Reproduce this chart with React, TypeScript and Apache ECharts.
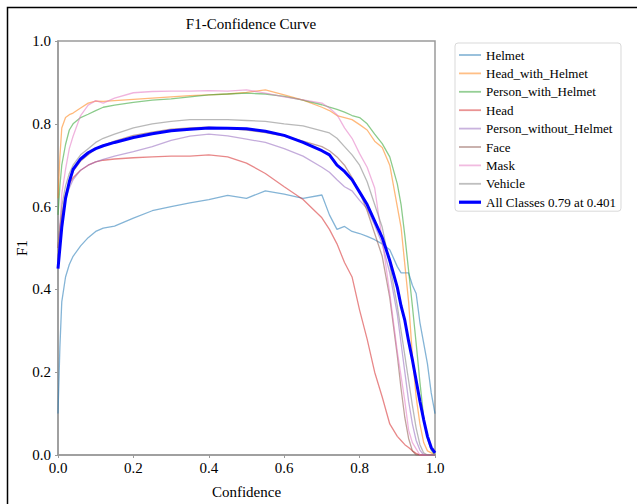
import React, { useEffect, useRef } from "react";
import * as echarts from "echarts";

const conf = [0, 0.005, 0.01, 0.02, 0.03, 0.04, 0.06, 0.08, 0.1, 0.12, 0.15, 0.2, 0.25, 0.3, 0.35, 0.4, 0.45, 0.5, 0.55, 0.6, 0.65, 0.7, 0.72, 0.74, 0.76, 0.78, 0.8, 0.82, 0.84, 0.86, 0.88, 0.9, 0.91, 0.92, 0.93, 0.94, 0.95, 0.96, 0.97, 0.98, 0.99, 1.0];

const helmet = [0.10, 0.26, 0.37, 0.43, 0.46, 0.48, 0.505, 0.525, 0.54, 0.548, 0.553, 0.572, 0.59, 0.60, 0.609, 0.617, 0.627, 0.62, 0.638, 0.63, 0.62, 0.628, 0.58, 0.545, 0.552, 0.54, 0.535, 0.528, 0.52, 0.51, 0.496, 0.455, 0.44, 0.44, 0.44, 0.41, 0.39, 0.32, 0.27, 0.22, 0.15, 0.10];
const headWithHelmet = [0.62, 0.72, 0.79, 0.815, 0.822, 0.826, 0.838, 0.85, 0.855, 0.854, 0.856, 0.859, 0.862, 0.865, 0.868, 0.87, 0.872, 0.876, 0.882, 0.87, 0.857, 0.84, 0.832, 0.82, 0.815, 0.81, 0.798, 0.785, 0.758, 0.743, 0.70, 0.60, 0.55, 0.46, 0.37, 0.24, 0.14, 0.075, 0.03, 0.01, 0.005, 0.0];
const personWithHelmet = [0.58, 0.65, 0.70, 0.75, 0.785, 0.80, 0.815, 0.823, 0.832, 0.84, 0.845, 0.852, 0.857, 0.86, 0.865, 0.87, 0.872, 0.874, 0.872, 0.866, 0.857, 0.846, 0.84, 0.835, 0.828, 0.82, 0.815, 0.80, 0.775, 0.752, 0.72, 0.655, 0.605, 0.53, 0.445, 0.36, 0.27, 0.176, 0.09, 0.04, 0.012, 0.0];
const head = [0.50, 0.55, 0.58, 0.63, 0.655, 0.67, 0.688, 0.70, 0.708, 0.712, 0.715, 0.718, 0.72, 0.722, 0.722, 0.725, 0.72, 0.705, 0.68, 0.648, 0.617, 0.573, 0.545, 0.51, 0.465, 0.43, 0.35, 0.28, 0.20, 0.14, 0.075, 0.045, 0.035, 0.025, 0.018, 0.01, 0.004, 0.0, 0.0, 0.0, 0.0, 0.0];
const personWithoutHelmet = [0.48, 0.53, 0.57, 0.62, 0.645, 0.665, 0.688, 0.70, 0.708, 0.714, 0.722, 0.733, 0.745, 0.76, 0.77, 0.775, 0.771, 0.763, 0.755, 0.74, 0.722, 0.695, 0.683, 0.665, 0.648, 0.638, 0.615, 0.595, 0.555, 0.51, 0.44, 0.34, 0.27, 0.20, 0.13, 0.075, 0.035, 0.012, 0.0, 0.0, 0.0, 0.0];
const face = [0.47, 0.52, 0.56, 0.62, 0.66, 0.685, 0.71, 0.725, 0.74, 0.748, 0.758, 0.772, 0.78, 0.787, 0.79, 0.792, 0.789, 0.785, 0.779, 0.77, 0.758, 0.745, 0.735, 0.72, 0.70, 0.67, 0.635, 0.59, 0.535, 0.48, 0.38, 0.24, 0.16, 0.09, 0.04, 0.01, 0.0, 0.0, 0.0, 0.0, 0.0, 0.0];
const mask = [0.45, 0.55, 0.63, 0.69, 0.74, 0.77, 0.82, 0.845, 0.856, 0.85, 0.862, 0.875, 0.878, 0.879, 0.879, 0.88, 0.879, 0.882, 0.874, 0.865, 0.858, 0.85, 0.838, 0.822, 0.79, 0.765, 0.728, 0.695, 0.645, 0.52, 0.39, 0.25, 0.19, 0.13, 0.06, 0.03, 0.015, 0.0, 0.0, 0.0, 0.0, 0.0];
const vehicle = [0.50, 0.55, 0.60, 0.65, 0.68, 0.70, 0.725, 0.74, 0.755, 0.765, 0.775, 0.79, 0.80, 0.806, 0.81, 0.81, 0.81, 0.808, 0.806, 0.80, 0.795, 0.783, 0.778, 0.765, 0.745, 0.725, 0.70, 0.66, 0.605, 0.55, 0.46, 0.36, 0.30, 0.24, 0.18, 0.12, 0.065, 0.025, 0.005, 0.0, 0.0, 0.0];
const allClasses = [0.45, 0.50, 0.55, 0.62, 0.66, 0.69, 0.715, 0.73, 0.74, 0.747, 0.755, 0.767, 0.776, 0.783, 0.787, 0.79, 0.789, 0.788, 0.782, 0.772, 0.755, 0.735, 0.725, 0.70, 0.685, 0.665, 0.635, 0.605, 0.565, 0.525, 0.47, 0.405, 0.36, 0.325, 0.275, 0.23, 0.18, 0.13, 0.085, 0.045, 0.018, 0.005];

const classNames = ["Helmet", "Head_with_Helmet", "Person_with_Helmet", "Head", "Person_without_Helmet", "Face", "Mask", "Vehicle"];
const classValues = [helmet, headWithHelmet, personWithHelmet, head, personWithoutHelmet, face, mask, vehicle];
const classColors = ["#1f77b4", "#ff7f0e", "#2ca02c", "#d62728", "#9467bd", "#8c564b", "#e377c2", "#7f7f7f"];
const allName = "All Classes 0.79 at 0.401";

const FONT = "'Liberation Serif', 'Times New Roman', serif";
const THIN_ICON = "path://M0,0 M0,6.1 L22,6.1 L22,7.9 L0,7.9 Z M22,14";
const THICK_ICON = "path://M0,0 M0,5.4 L22,5.4 L22,8.6 L0,8.6 Z M22,14";

export default function App() {
  const ref = useRef<HTMLDivElement>(null);
  useEffect(() => {
    if (!ref.current) return;
    const chart = echarts.init(ref.current, undefined, { renderer: "svg" });
    const series: any[] = classNames.map((name, k) => ({
      name,
      type: "line",
      data: conf.map((c, i) => [c, classValues[k][i]]),
      showSymbol: false,
      symbol: "none",
      lineStyle: { width: 1.3, color: classColors[k], opacity: 0.55 },
      itemStyle: { color: classColors[k], opacity: 0.5 },
      z: 2,
    }));
    series.push({
      name: allName,
      type: "line",
      data: conf.map((c, i) => [c, allClasses[i]]),
      showSymbol: false,
      symbol: "none",
      lineStyle: { width: 3, color: "#0000ff" },
      itemStyle: { color: "#0000ff" },
      z: 5,
    });
    chart.setOption({
      animation: false,
      backgroundColor: "#ffffff",
      textStyle: { fontFamily: FONT },
      title: {
        text: "F1-Confidence Curve",
        left: 246,
        top: 11,
        textAlign: "center",
        textStyle: { fontFamily: FONT, fontSize: 15, fontWeight: "normal", color: "#000" },
      },
      legend: {
        orient: "vertical",
        left: 455,
        top: 43,
        padding: [5, 5, 2, 4],
        itemWidth: 22,
        itemHeight: 14,
        itemGap: 4.4,
        borderColor: "#d9d9d9",
        borderWidth: 1,
        borderRadius: 3,
        textStyle: { fontFamily: FONT, fontSize: 13, color: "#000" },
        data: [
          ...classNames.map((n) => ({ name: n, icon: THIN_ICON })),
          { name: allName, icon: THICK_ICON },
        ],
      },
      grid: {
        left: 58,
        top: 41,
        right: 202,
        bottom: 48,
        show: true,
        borderColor: "#9a9a9a",
        borderWidth: 1.5,
      },
      xAxis: {
        type: "value",
        min: 0,
        max: 1,
        interval: 0.2,
        name: "Confidence",
        nameLocation: "middle",
        nameGap: 29,
        nameMoveOverlap: false,
        nameTextStyle: { fontFamily: FONT, fontSize: 15, color: "#000" },
        axisLine: { show: true, lineStyle: { color: "#9a9a9a", width: 1.5 } },
        axisTick: { show: true, length: 3, lineStyle: { color: "#9a9a9a" } },
        axisLabel: { fontFamily: FONT, fontSize: 15, color: "#000", margin: 5, formatter: (v: number) => v.toFixed(1) },
        splitLine: { show: false },
      },
      yAxis: {
        type: "value",
        min: 0,
        max: 1,
        interval: 0.2,
        name: "F1",
        nameLocation: "middle",
        nameGap: 36,
        nameMoveOverlap: false,
        nameTextStyle: { fontFamily: FONT, fontSize: 15, color: "#000", verticalAlign: "middle" },
        axisLine: { show: true, lineStyle: { color: "#9a9a9a", width: 1.5 } },
        axisTick: { show: true, length: 3, lineStyle: { color: "#9a9a9a" } },
        axisLabel: { fontFamily: FONT, fontSize: 15, color: "#000", margin: 7, formatter: (v: number) => v.toFixed(1) },
        splitLine: { show: false },
      },
      graphic: [
        {
          type: "rect",
          left: 5,
          top: 5,
          shape: { x: 0, y: 0, width: 700, height: 600 },
          style: { fill: "none", stroke: "#000", lineWidth: 1.5 },
          silent: true,
          z: 100,
        },
      ],
      series,
    });
    return () => chart.dispose();
  }, []);
  return <div ref={ref} style={{ position: "fixed", left: 0, top: 0, width: 637, height: 504 }} />;
}
